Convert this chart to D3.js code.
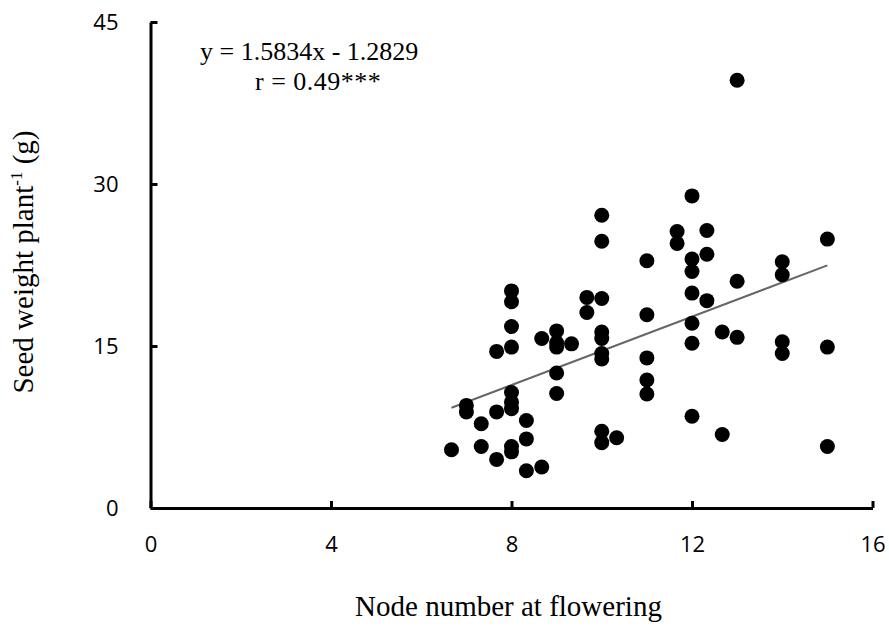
<!DOCTYPE html>
<html>
<head>
<meta charset="utf-8">
<script src="https://cdn.jsdelivr.net/npm/d3@7"></script>
<style>
  html, body { margin: 0; padding: 0; background: #fff; }
  svg { display: block; }
</style>
</head>
<body>
<div id="chart"></div>
<script>
// ── Data: node number at flowering vs seed weight per plant ─────────────────
const NODE_X = [
  6.67, 7, 7, 7.33, 7.33, 7.67, 7.67, 7.67,
  8, 8, 8, 8, 8, 8, 8, 8, 8,
  8.33, 8.33, 8.33, 8.67, 8.67,
  9, 9, 9, 9, 9, 9.33, 9.67, 9.67,
  10, 10, 10, 10, 10, 10, 10, 10, 10, 10.33,
  11, 11, 11, 11, 11, 11.67, 11.67,
  12, 12, 12, 12, 12, 12, 12, 12.33, 12.33, 12.33,
  12.67, 12.67, 13, 13, 13, 14, 14, 14, 14, 15, 15, 15
];
const SEED_W = [
  5.4, 9.5, 8.9, 7.8, 5.7, 14.5, 8.9, 4.5,
  20.1, 19.1, 16.8, 14.9, 10.7, 9.8, 9.2, 5.7, 5.2,
  8.1, 6.4, 3.45, 15.7, 3.8,
  16.4, 15.3, 14.9, 12.5, 10.6, 15.2, 19.5, 18.1,
  27.1, 24.7, 19.4, 16.3, 15.7, 14.3, 13.8, 7.1, 6.05, 6.5,
  22.9, 17.9, 13.9, 11.85, 10.56, 25.6, 24.5,
  28.9, 23.05, 21.9, 19.9, 17.1, 15.25, 8.5, 25.7, 23.5, 19.2,
  16.3, 6.8, 39.6, 21.0, 15.8, 22.8, 21.6, 15.4, 14.3, 24.9, 14.9, 5.7
];
const X_TICKS = [0, 4, 8, 12, 16];
const Y_TICKS = [0, 15, 30, 45];
const FIT_SLOPE = 1.5834, FIT_INTERCEPT = -1.2829;
const FIT_RANGE = [6.67, 15];
const EQ_LINES = ["y = 1.5834x - 1.2829", "r = 0.49***"];

(function () {
  "use strict";

  const totalW = 889, totalH = 634;
  const margin = { top: 22, right: 16.5, bottom: 126, left: 150.5 };
  const W = totalW - margin.left - margin.right;
  const H = totalH - margin.top - margin.bottom;

  const svg = d3.select("#chart").append("svg")
    .attr("width", totalW).attr("height", totalH);

  const g = svg.append("g").attr("transform", `translate(${margin.left},${margin.top})`);

  const x = d3.scaleLinear().domain([0, 16]).range([0, W]);
  const y = d3.scaleLinear().domain([0, 45]).range([H, 0]);

  const TICK_FONT = "'Open Sans', Lato, sans-serif";
  const SERIF = "'Liberation Serif', 'DejaVu Serif', serif";

  // ── Axes ──────────────────────────────────────────────────────────────────
  const xAxis = g.append("g").attr("transform", `translate(0,${H})`)
    .call(d3.axisBottom(x).tickValues(X_TICKS).tickSizeInner(-7).tickSizeOuter(0).tickPadding(28));
  const yAxis = g.append("g")
    .call(d3.axisLeft(y).tickValues(Y_TICKS).tickSizeInner(-7).tickSizeOuter(0).tickPadding(32));

  [xAxis, yAxis].forEach(function (ax) {
    ax.select(".domain").style("stroke", "#000").style("stroke-width", "3px");
    ax.selectAll(".tick line").style("stroke", "#000").style("stroke-width", "3px");
    ax.selectAll(".tick text")
      .style("fill", "#000")
      .style("font-family", TICK_FONT)
      .style("font-size", "22px");
  });

  // ── Regression line ───────────────────────────────────────────────────────
  const fit = FIT_RANGE.map(v => [v, FIT_SLOPE * v + FIT_INTERCEPT]);
  g.append("path")
    .datum(fit)
    .attr("d", d3.line().x(d => x(d[0])).y(d => y(d[1])))
    .attr("fill", "none")
    .attr("stroke", "#666")
    .attr("stroke-width", 2);

  // ── Points ────────────────────────────────────────────────────────────────
  g.selectAll("circle.pt")
    .data(NODE_X.map((v, i) => [v, SEED_W[i]]))
    .enter().append("circle")
    .attr("class", "pt")
    .attr("cx", d => x(d[0]))
    .attr("cy", d => y(d[1]))
    .attr("r", 7.5)
    .attr("fill", "#000");

  // ── Equation ──────────────────────────────────────────────────────────────
  svg.append("text")
    .attr("x", 200).attr("y", 60)
    .attr("font-family", SERIF).attr("font-size", 26)
    .attr("fill", "#000")
    .text(EQ_LINES[0]);
  svg.append("text")
    .attr("x", 255).attr("y", 90)
    .attr("font-family", SERIF).attr("font-size", 26)
    .attr("letter-spacing", 0.5)
    .attr("fill", "#000")
    .text(EQ_LINES[1]);

  // ── Axis titles ───────────────────────────────────────────────────────────
  svg.append("text")
    .attr("x", margin.left + W / 2 - 3).attr("y", 616)
    .attr("text-anchor", "middle")
    .attr("font-family", SERIF).attr("font-size", 29)
    .attr("fill", "#000")
    .text("Node number at flowering");

  const yt = svg.append("text")
    .attr("transform", "translate(33,262) rotate(-90)")
    .attr("text-anchor", "middle")
    .attr("font-family", SERIF).attr("font-size", 29)
    .attr("fill", "#000");
  yt.append("tspan").text("Seed weight plant");
  yt.append("tspan").attr("font-size", 17).attr("dy", -11).text("-1");
  yt.append("tspan").attr("dy", 11).text(" (g)");
})();
</script>
</body>
</html>
